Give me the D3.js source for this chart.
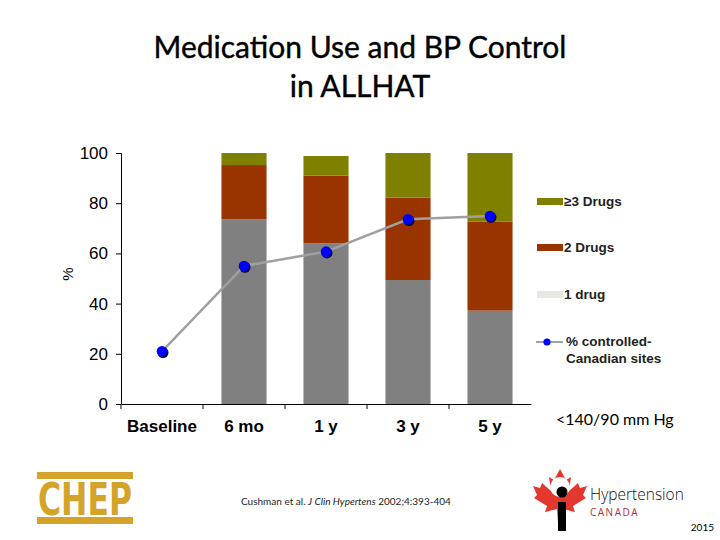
<!DOCTYPE html>
<html>
<head>
<meta charset="utf-8">
<script src="https://cdn.jsdelivr.net/npm/d3@7"></script>
<style>
  body { margin: 0; background: #fff; }
  svg { display: block; }
</style>
</head>
<body>
<svg width="720" height="540"></svg>
<script>
// Chart data
const categories = ["Baseline", "6 mo", "1 y", "3 y", "5 y"];
const oneDrug = [0, 73.6, 64, 49.4, 37.2];
const twoDrugs = [0, 21.6, 27, 32.8, 35.4];
const threeDrugs = [0, 4.8, 7.8, 17.8, 27.4];
const controlled = [21, 55, 60.7, 73.6, 74.9];
const yTicks = [0, 20, 40, 60, 80, 100];
const seriesNames = ["1 drug", "2 Drugs", "\u22653 Drugs"];

const colors = { "1 drug": "#808080", "2 Drugs": "#993300", "\u22653 Drugs": "#808000" };
const legendColors = { "1 drug": "#e8e8e0", "2 Drugs": "#993300", "\u22653 Drugs": "#808000" };

const svg = d3.select("svg");

// Title
const title = svg.append("text")
  .attr("text-anchor", "middle")
  .attr("font-family", "Lato, 'Open Sans', sans-serif")
  .attr("font-size", 30)
  .attr("stroke", "#000")
  .attr("stroke-width", 0.4)
  .attr("fill", "#000");
title.append("tspan").attr("x", 360).attr("y", 58).text("Medication Use and BP Control");
title.append("tspan").attr("x", 360).attr("y", 97).text("in ALLHAT");

// Scales
const x = d3.scaleBand()
  .domain(categories)
  .range([121, 531])
  .paddingInner(0.45)
  .paddingOuter(0.225);
const y = d3.scaleLinear().domain([0, 100]).range([404, 153]);

// Stacked bars
const table = categories.map((c, i) => ({
  cat: c,
  "1 drug": oneDrug[i],
  "2 Drugs": twoDrugs[i],
  "\u22653 Drugs": threeDrugs[i]
}));
const stacked = d3.stack().keys(seriesNames)(table);

svg.append("g")
  .selectAll("g")
  .data(stacked)
  .join("g")
  .attr("fill", d => colors[d.key])
  .selectAll("rect")
  .data(d => d)
  .join("rect")
  .attr("x", d => x(d.data.cat))
  .attr("y", d => y(d[1]))
  .attr("width", x.bandwidth())
  .attr("height", d => y(d[0]) - y(d[1]));

// Axes
const yAxis = svg.append("g")
  .attr("transform", "translate(121,0)")
  .call(d3.axisLeft(y).tickValues(yTicks).tickSize(5).tickPadding(8));
yAxis.selectAll("text")
  .attr("font-family", "Arial, 'Liberation Sans', sans-serif")
  .attr("font-size", 17)
  .attr("fill", "#000");
yAxis.selectAll("line, path").attr("stroke", "#000");

const xAxis = svg.append("g")
  .attr("transform", "translate(0,404)")
  .call(d3.axisBottom(x).tickSize(0).tickPadding(16).tickSizeOuter(0));
xAxis.select(".domain").attr("stroke", "#000");
xAxis.selectAll("text")
  .attr("font-family", "Arial, 'Liberation Sans', sans-serif")
  .attr("font-weight", "bold")
  .attr("font-size", 17)
  .attr("fill", "#000");
// boundary ticks between categories
xAxis.selectAll(".tick")
  .append("line")
  .attr("x1", -x.step() / 2)
  .attr("x2", -x.step() / 2)
  .attr("y1", 0)
  .attr("y2", 5)
  .attr("stroke", "#000");

// y label
svg.append("text")
  .attr("transform", "translate(73,274) rotate(-90)")
  .attr("text-anchor", "middle")
  .attr("font-family", "Arial, 'Liberation Sans', sans-serif")
  .attr("font-size", 15)
  .text("%");

// Controlled line
const cx = c => x(c) + x.bandwidth() / 2;
const line = d3.line()
  .x((d, i) => cx(categories[i]))
  .y(d => y(d));
svg.append("path")
  .datum(controlled)
  .attr("fill", "none")
  .attr("stroke", "#a0a0a0")
  .attr("stroke-width", 2.5)
  .attr("d", line);

const pts = svg.append("g").selectAll("g")
  .data(controlled)
  .join("g")
  .attr("transform", (d, i) => `translate(${cx(categories[i])},${y(d)})`);
pts.append("circle").attr("cx", 1).attr("cy", 1.3).attr("r", 5.5).attr("fill", "#000033");
pts.append("circle").attr("r", 5.3).attr("fill", "#0000ff");

// Legend
const legendFont = "Arial, 'Liberation Sans', sans-serif";
const legendItems = [
  { name: "\u22653 Drugs", y: 201 },
  { name: "2 Drugs", y: 247 },
  { name: "1 drug", y: 294 }
];
const legend = svg.append("g");
legend.selectAll("rect")
  .data(legendItems)
  .join("rect")
  .attr("x", 537)
  .attr("y", d => d.y - 3)
  .attr("width", 26)
  .attr("height", 7)
  .attr("fill", d => legendColors[d.name]);
legend.selectAll("text.item")
  .data(legendItems)
  .join("text")
  .attr("class", "item")
  .attr("x", 564)
  .attr("y", d => d.y + 5)
  .attr("font-family", legendFont)
  .attr("font-weight", "bold")
  .attr("font-size", 13.5)
  .attr("fill", "#222")
  .text(d => d.name);

legend.append("line")
  .attr("x1", 536).attr("x2", 563)
  .attr("y1", 342).attr("y2", 342)
  .attr("stroke", "#8080a0").attr("stroke-width", 1.5);
legend.append("circle").attr("cx", 547).attr("cy", 342).attr("r", 3.6).attr("fill", "#0000ff");
const lt = legend.append("text")
  .attr("font-family", legendFont)
  .attr("font-weight", "bold")
  .attr("font-size", 13.5)
  .attr("fill", "#222");
lt.append("tspan").attr("x", 566).attr("y", 346).text("% controlled-");
lt.append("tspan").attr("x", 566).attr("y", 363).text("Canadian sites");

svg.append("text")
  .attr("x", 556).attr("y", 425)
  .attr("font-family", "Lato, 'Open Sans', sans-serif")
  .attr("font-size", 16)
  .text("<140/90 mm Hg");

// CHEP logo
const gold = "#d4a32a";
const chep = svg.append("g");
chep.append("rect").attr("x", 37).attr("y", 472).attr("width", 96).attr("height", 7).attr("fill", gold);
chep.append("rect").attr("x", 37).attr("y", 517).attr("width", 96).attr("height", 7).attr("fill", gold);
chep.append("text")
  .attr("x", 85).attr("y", 515)
  .attr("text-anchor", "middle")
  .attr("font-family", "'Liberation Sans Narrow', 'DejaVu Sans Condensed', Arial, sans-serif")
  .attr("font-weight", "bold")
  .attr("font-size", 44)
  .attr("textLength", 94)
  .attr("lengthAdjust", "spacingAndGlyphs")
  .attr("fill", gold)
  .text("CHEP");

// Citation
const cite = svg.append("text")
  .attr("x", 241).attr("y", 505)
  .attr("font-family", "Lato, 'Open Sans', sans-serif")
  .attr("font-size", 10)
  .attr("fill", "#222");
cite.append("tspan").text("Cushman et al. ");
cite.append("tspan").attr("font-style", "italic").text("J Clin Hypertens");
cite.append("tspan").text(" 2002;4:393-404");

// Hypertension Canada logo
const hc = svg.append("g").attr("transform", "translate(560,497)");
hc.append("path")
  .attr("d", "M0,-28 L6,-17 L11,-20 L9,-6 L18,-14 L20,-9 L27,-11 L23,-2 L26,1 L13,9 L15,15 L3,12 L2,26 L-2,26 L-3,12 L-15,15 L-13,9 L-26,1 L-23,-2 L-27,-11 L-20,-9 L-18,-14 L-9,-6 L-11,-20 L-6,-17 Z")
  .attr("fill", "#e2382e");
hc.append("circle").attr("cx", 0).attr("cy", -10).attr("r", 10).attr("fill", "#fff");
hc.append("circle").attr("cx", 2).attr("cy", -5).attr("r", 5.5).attr("fill", "#000");
hc.append("rect").attr("x", -2).attr("y", 5).attr("width", 8).attr("height", 29).attr("fill", "#000");
svg.append("text")
  .attr("x", 590).attr("y", 500)
  .attr("font-family", "'Open Sans', sans-serif")
  .attr("font-weight", 300)
  .attr("font-size", 15.5)
  .attr("fill", "#111")
  .text("Hypertension");
svg.append("text")
  .attr("x", 590).attr("y", 516)
  .attr("font-family", "'Open Sans', sans-serif")
  .attr("font-size", 10)
  .attr("letter-spacing", 1.5)
  .attr("fill", "#b0303a")
  .text("CANADA");

svg.append("text")
  .attr("x", 714).attr("y", 531)
  .attr("text-anchor", "end")
  .attr("font-family", "Lato, 'Open Sans', sans-serif")
  .attr("font-size", 10)
  .text("2015");
</script>
</body>
</html>
